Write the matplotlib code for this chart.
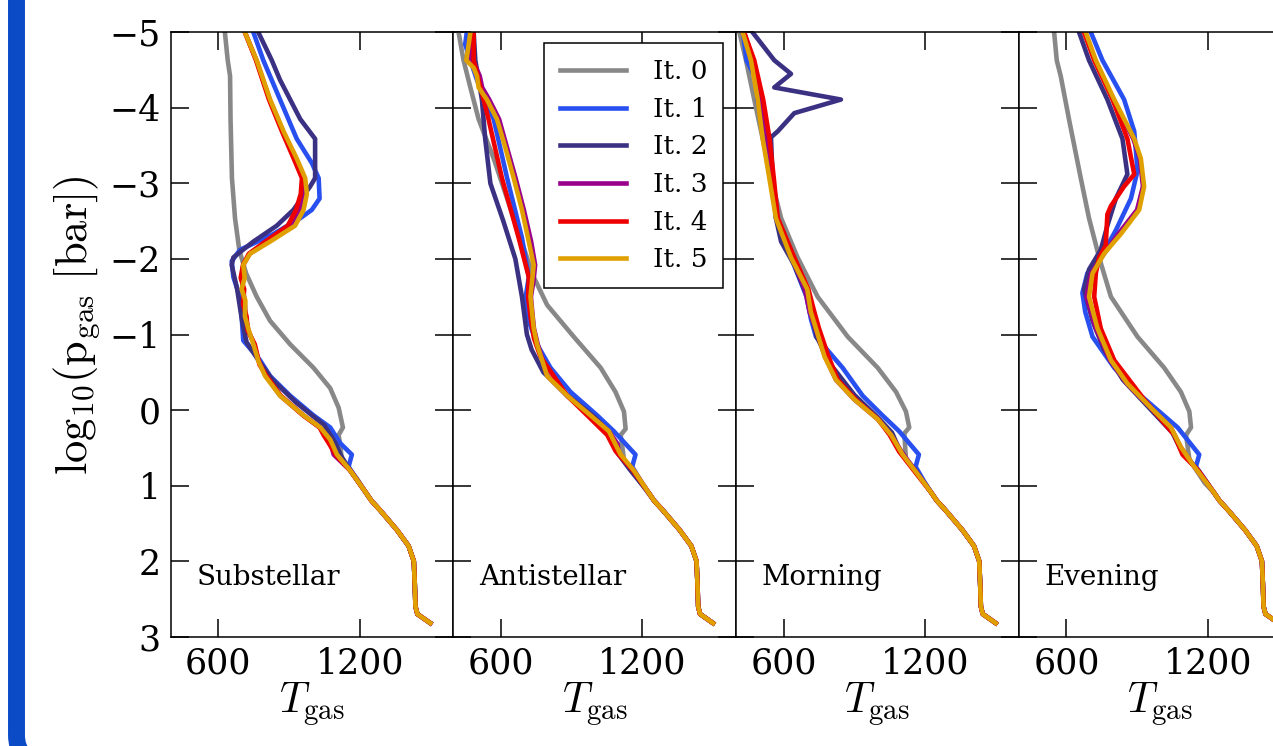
import matplotlib
matplotlib.use("Agg")
import matplotlib.pyplot as plt
from matplotlib.patches import FancyBboxPatch
from matplotlib.transforms import IdentityTransform

plt.rcParams["font.family"] = ["DejaVu Serif"]
plt.rcParams["mathtext.fontset"] = "cm"

# (log10 p_gas, T_gas), one list per iteration and panel
panels = ["Substellar", "Antistellar", "Morning", "Evening"]
labels = ["It. 0", "It. 1", "It. 2", "It. 3", "It. 4", "It. 5"]
colors = ["#888888", "#2850f0", "#3b3183", "#99008c", "#ee0000", "#e0a000"]

# deep atmosphere, the same for every run
tail_p = [1.2, 1.33, 1.59, 1.8, 2.0, 2.3, 2.6, 2.7, 2.82]
tail_T = [1250, 1288, 1359, 1408, 1430, 1434, 1437, 1445, 1500]

sub_p0 = [-5.0, -4.63, -4.42, -3.85, -3.07, -2.54, -2.12, -1.81, -1.5, -1.18, -0.87, -0.56, -0.29, -0.03, 0.23, 0.33, 0.65, 0.91, 1.1]
sub_T0 = [628, 640, 650, 652, 658, 671, 689, 718, 763, 820, 905, 1004, 1075, 1111, 1129, 1111, 1125, 1189, 1228]
sub_p1 = [-5.0, -4.63, -4.11, -3.59, -3.27, -3.07, -2.8, -2.65, -2.54, -2.33, -2.12, -1.97, -1.76, -1.5, -1.2, -0.92, -0.66, -0.45, -0.19, 0.07, 0.23, 0.44, 0.59, 0.75, 0.95, 1.1]
sub_T1 = [749, 791, 862, 933, 997, 1026, 1030, 997, 948, 834, 692, 657, 664, 692, 700, 706, 777, 820, 905, 1004, 1075, 1118, 1167, 1153, 1195, 1228]
sub_p2 = [-5.0, -4.63, -4.37, -3.85, -3.59, -3.07, -2.96, -2.65, -2.44, -2.23, -2.02, -1.92, -1.6, -1.2, -0.9, -0.66, -0.4, -0.1, 0.2, 0.45, 0.6, 0.8, 1.1]
sub_T2 = [770, 827, 862, 948, 1011, 1011, 990, 919, 848, 749, 664, 657, 680, 700, 720, 770, 830, 930, 1050, 1100, 1120, 1160, 1228]
sub_p3 = [-5.0, -4.63, -4.11, -3.69, -3.33, -3.07, -2.86, -2.65, -2.44, -2.23, -2.07, -1.92, -1.75, -1.6, -1.45, -1.24, -1.05, -0.87, -0.65, -0.45, -0.19, 0.07, 0.23, 0.39, 0.59, 0.8, 1.1]
sub_T3 = [713, 762, 818, 874, 926, 962, 965, 948, 910, 810, 733, 706, 700, 705, 712, 716, 728, 752, 772, 802, 863, 961, 1031, 1072, 1090, 1160, 1228]
sub_p4 = [-5.0, -4.63, -4.11, -3.69, -3.33, -3.07, -2.86, -2.65, -2.44, -2.23, -2.07, -1.92, -1.75, -1.6, -1.4, -1.24, -1.05, -0.87, -0.6, -0.45, -0.19, 0.07, 0.23, 0.33, 0.54, 0.6, 0.8, 1.1]
sub_T4 = [713, 760, 815, 870, 920, 955, 950, 930, 895, 800, 730, 705, 695, 710, 705, 720, 725, 755, 775, 805, 865, 960, 1030, 1047, 1089, 1100, 1160, 1228]
sub_p5 = [-5.0, -4.63, -4.11, -3.69, -3.33, -3.07, -2.86, -2.65, -2.44, -2.23, -2.07, -1.92, -1.75, -1.6, -1.45, -1.24, -1.05, -0.87, -0.65, -0.45, -0.19, 0.07, 0.23, 0.39, 0.59, 0.8, 1.1]
sub_T5 = [713, 763, 820, 877, 933, 969, 976, 962, 926, 820, 735, 706, 712, 699, 715, 713, 730, 749, 770, 799, 862, 962, 1033, 1075, 1104, 1160, 1228]

anti_p0 = [-5.0, -4.63, -4.27, -3.85, -3.33, -2.8, -2.28, -1.76, -1.39, -0.97, -0.56, -0.24, 0.02, 0.25, 0.33, 0.65, 0.96, 1.1]
anti_T0 = [420, 441, 470, 505, 569, 626, 682, 739, 796, 909, 1023, 1086, 1122, 1129, 1108, 1122, 1193, 1225]
anti_p1 = [-5.0, -4.84, -4.63, -4.37, -3.85, -3.07, -2.28, -1.76, -1.5, -1.24, -0.87, -0.56, -0.24, 0.07, 0.28, 0.59, 0.75, 0.95, 1.1]
anti_T1 = [455, 448, 470, 498, 569, 626, 689, 718, 705, 711, 753, 810, 895, 1008, 1079, 1171, 1157, 1195, 1228]
anti_p2 = [-5.0, -4.63, -4.11, -3.59, -3.0, -2.5, -2.0, -1.5, -1.0, -0.8, -0.5, -0.2, 0.1, 0.3, 0.55, 0.8, 1.1]
anti_T2 = [484, 491, 519, 533, 555, 610, 661, 689, 710, 730, 780, 880, 1000, 1060, 1090, 1150, 1228]
anti_p3 = [-5.0, -4.84, -4.63, -4.53, -4.42, -4.27, -4.11, -3.85, -3.48, -3.07, -2.65, -2.23, -1.92, -1.71, -1.5, -1.29, -1.08, -0.87, -0.45, -0.19, 0.07, 0.28, 0.45, 0.59, 0.8, 1.1]
anti_T3 = [480, 475, 470, 495, 510, 520, 550, 592, 625, 662, 697, 728, 745, 738, 727, 733, 740, 756, 798, 880, 980, 1058, 1095, 1100, 1164, 1228]
anti_p4 = [-5.0, -4.63, -4.37, -3.85, -3.07, -2.28, -1.76, -1.5, -1.24, -0.95, -0.71, -0.19, 0.33, 0.54, 0.8, 1.1]
anti_T4 = [484, 484, 505, 547, 604, 675, 718, 715, 725, 740, 767, 881, 1051, 1086, 1160, 1228]
anti_p5 = [-5.0, -4.84, -4.63, -4.53, -4.42, -4.27, -4.11, -3.85, -3.48, -3.07, -2.65, -2.23, -1.92, -1.71, -1.5, -1.29, -1.08, -0.87, -0.45, -0.19, 0.07, 0.28, 0.59, 0.8, 1.1]
anti_T5 = [470, 463, 453, 484, 498, 505, 540, 583, 618, 654, 689, 718, 739, 732, 725, 732, 739, 753, 796, 881, 980, 1058, 1108, 1164, 1228]

morn_p0 = [-5.0, -4.63, -4.11, -3.59, -3.07, -2.54, -2.02, -1.5, -0.97, -0.56, -0.24, 0.02, 0.23, 0.31, 0.65, 0.96, 1.1]
morn_T0 = [412, 440, 475, 511, 546, 589, 659, 744, 872, 999, 1077, 1119, 1133, 1112, 1119, 1197, 1228]
morn_p1 = [-5.0, -4.63, -4.37, -4.11, -3.59, -3.07, -2.54, -2.02, -1.5, -1.2, -0.97, -0.56, -0.19, 0.07, 0.28, 0.59, 0.75, 0.95, 1.1]
morn_T1 = [427, 442, 485, 488, 525, 552, 567, 631, 697, 716, 737, 850, 935, 1019, 1090, 1174, 1160, 1197, 1228]
morn_p2 = [-5.0, -4.63, -4.45, -4.27, -4.11, -3.93, -3.69, -3.61, -3.07, -2.54, -2.23, -1.92, -1.5, -0.97, -0.6, -0.2, 0.1, 0.3, 0.55, 0.8, 1.1]
morn_T2 = [468, 560, 631, 560, 843, 645, 575, 546, 553, 567, 589, 645, 700, 740, 800, 900, 1000, 1060, 1095, 1160, 1228]
morn_p3 = [-5.0, -4.63, -4.11, -3.59, -3.07, -2.54, -2.02, -1.6, -1.3, -1.08, -0.71, -0.4, -0.14, 0.12, 0.33, 0.55, 0.85, 1.1]
morn_T3 = [432, 470, 505, 530, 551, 571, 635, 690, 710, 735, 775, 822, 900, 999, 1056, 1100, 1169, 1228]
morn_p4 = [-5.0, -4.63, -4.11, -3.59, -3.07, -2.54, -2.02, -1.6, -1.3, -1.08, -0.71, -0.4, -0.14, 0.12, 0.33, 0.55, 0.85, 1.1]
morn_T4 = [432, 475, 513, 540, 558, 575, 645, 705, 730, 750, 790, 830, 905, 1000, 1050, 1090, 1165, 1228]
morn_p5 = [-5.0, -4.63, -4.11, -3.59, -3.07, -2.54, -2.02, -1.6, -1.3, -1.08, -0.71, -0.4, -0.14, 0.12, 0.33, 0.59, 0.85, 1.1]
morn_T5 = [426, 461, 490, 511, 539, 567, 631, 700, 715, 737, 773, 822, 900, 999, 1056, 1105, 1169, 1228]

eve_p0 = [-5.0, -4.63, -4.42, -3.85, -3.07, -2.54, -2.02, -1.5, -0.97, -0.56, -0.24, 0.02, 0.23, 0.33, 0.65, 0.96, 1.1]
eve_T0 = [548, 559, 576, 611, 661, 696, 739, 789, 902, 1015, 1086, 1122, 1129, 1108, 1122, 1186, 1228]
eve_p1 = [-5.0, -4.63, -4.11, -3.69, -3.17, -2.8, -2.38, -2.02, -1.81, -1.55, -1.3, -0.97, -0.56, -0.19, 0.23, 0.59, 0.75, 0.95, 1.1]
eve_T1 = [704, 753, 845, 888, 902, 874, 810, 746, 689, 668, 680, 711, 803, 916, 1072, 1164, 1150, 1195, 1228]
eve_p2 = [-5.0, -4.63, -4.11, -3.59, -3.12, -2.8, -2.44, -2.12, -1.86, -1.6, -1.18, -0.8, -0.4, 0.0, 0.3, 0.55, 0.8, 1.1]
eve_T2 = [654, 696, 774, 838, 859, 810, 774, 746, 696, 675, 711, 760, 840, 960, 1050, 1090, 1160, 1228]
eve_p3 = [-5.0, -4.63, -4.11, -3.59, -3.33, -2.96, -2.65, -2.33, -2.07, -1.81, -1.5, -1.08, -0.66, -0.35, -0.03, 0.23, 0.49, 0.75, 1.1]
eve_T3 = [680, 722, 800, 884, 912, 925, 900, 820, 760, 705, 685, 725, 785, 857, 958, 1043, 1085, 1143, 1228]
eve_p4 = [-5.0, -4.63, -4.11, -3.59, -3.12, -2.96, -2.7, -2.59, -2.18, -2.02, -1.81, -1.5, -1.08, -0.66, -0.14, 0.33, 0.59, 0.8, 1.1]
eve_T4 = [675, 718, 796, 859, 888, 845, 789, 774, 767, 739, 725, 718, 746, 803, 930, 1058, 1093, 1160, 1228]
eve_p5 = [-5.0, -4.63, -4.11, -3.59, -3.33, -2.96, -2.65, -2.33, -2.07, -1.81, -1.5, -1.08, -0.66, -0.35, -0.03, 0.23, 0.49, 0.75, 1.1]
eve_T5 = [682, 725, 803, 888, 916, 930, 909, 831, 760, 711, 696, 732, 789, 859, 959, 1044, 1086, 1143, 1228]

profiles = [
    [(sub_p0, sub_T0), (sub_p1, sub_T1), (sub_p2, sub_T2), (sub_p3, sub_T3), (sub_p4, sub_T4), (sub_p5, sub_T5)],
    [(anti_p0, anti_T0), (anti_p1, anti_T1), (anti_p2, anti_T2), (anti_p3, anti_T3), (anti_p4, anti_T4), (anti_p5, anti_T5)],
    [(morn_p0, morn_T0), (morn_p1, morn_T1), (morn_p2, morn_T2), (morn_p3, morn_T3), (morn_p4, morn_T4), (morn_p5, morn_T5)],
    [(eve_p0, eve_T0), (eve_p1, eve_T1), (eve_p2, eve_T2), (eve_p3, eve_T3), (eve_p4, eve_T4), (eve_p5, eve_T5)],
]

W, H = 1273, 746
fig = plt.figure(figsize=(W / 100, H / 100), dpi=100)

# blue slide frame on the left edge
frame = FancyBboxPatch((16.5, -14), 1500, 900, boxstyle="round,pad=0,rounding_size=25",
                       transform=IdentityTransform(), facecolor="none",
                       edgecolor="#0b4cc6", linewidth=12.2, clip_on=False)
fig.add_artist(frame)

left0, bottom, pw, ph = 170.7 / W, 109.3 / H, 282.7 / W, 604.4 / H

axes = []
for i, name in enumerate(panels):
    ax = fig.add_axes([left0 + i * pw, bottom, pw, ph])
    for k, (p, T) in enumerate(profiles[i]):
        ax.plot(list(T) + tail_T, list(p) + tail_p, color=colors[k], lw=3.3,
                label=labels[k])
    ax.set_xlim(398, 1598)
    ax.set_ylim(3, -5)
    ax.set_xticks([600, 1200])
    ax.set_yticks(range(-5, 4))
    ax.tick_params(direction="in", length=13, width=1.1, top=True, right=True,
                   labelsize=25, pad=7)
    if i > 0:
        ax.tick_params(labelleft=False)
    for s in ax.spines.values():
        s.set_linewidth(1.1)
    ax.set_xlabel(r"$T_{\mathrm{gas}}$", fontsize=30, labelpad=0)
    ax.text(0.09, 0.085, name, transform=ax.transAxes, fontsize=20, va="baseline")
    axes.append(ax)

fig.text(77 / W, 1 - 325 / H, r"$\mathrm{log}_{10}(\mathrm{p}_{\mathrm{gas}}\ [\mathrm{bar}])$",
         rotation=90, ha="center", va="center", fontsize=32)

leg = axes[1].legend(loc="upper right", bbox_to_anchor=(1 - 13 / 282.7, 1 - 11 / 604.4),
                     borderaxespad=0, fontsize=19, handlelength=2.5, handletextpad=1.0,
                     labelspacing=0.48, borderpad=0.6, fancybox=False, framealpha=1,
                     edgecolor="k")
leg.get_frame().set_linewidth(1.1)

fig.savefig("out.png", dpi=100)
